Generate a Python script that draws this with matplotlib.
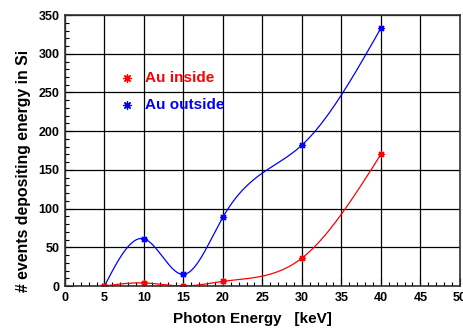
import numpy as np
import matplotlib
matplotlib.use('Agg')
import matplotlib.pyplot as plt
from matplotlib.ticker import MultipleLocator

energy = [5, 10, 15, 20, 30, 40]
au_inside = [0, 4, 0, 6, 36, 170]
au_outside = [0, 61, 15, 89, 182, 333]


def spline(x, y, n=400):
    # natural cubic spline, like ROOT's smooth "C" drawing
    x = np.asarray(x, float)
    y = np.asarray(y, float)
    k = len(x)
    h = np.diff(x)
    A = np.zeros((k, k))
    b = np.zeros(k)
    A[0, 0] = A[-1, -1] = 1
    for i in range(1, k - 1):
        A[i, i - 1] = h[i - 1]
        A[i, i] = 2 * (h[i - 1] + h[i])
        A[i, i + 1] = h[i]
        b[i] = 6 * ((y[i + 1] - y[i]) / h[i] - (y[i] - y[i - 1]) / h[i - 1])
    m = np.linalg.solve(A, b)
    xs = np.linspace(x[0], x[-1], n)
    j = np.clip(np.searchsorted(x, xs) - 1, 0, k - 2)
    t0 = x[j + 1] - xs
    t1 = xs - x[j]
    hj = h[j]
    ys = (m[j] * t0**3 + m[j + 1] * t1**3) / (6 * hj) \
        + (y[j] / hj - m[j] * hj / 6) * t0 + (y[j + 1] / hj - m[j + 1] * hj / 6) * t1
    return xs, ys


plt.rcParams['font.family'] = 'Liberation Sans'
plt.rcParams['font.weight'] = 'bold'

fig = plt.figure(figsize=(4.64, 3.28), dpi=100)
ax = fig.add_axes([0.140, 0.128, 0.851, 0.826])

star = (8, 2, 0)
for ys, col in [(au_outside, 'blue'), (au_inside, 'red')]:
    sx, sy = spline(energy, ys)
    ax.plot(sx, sy, color=col, linewidth=0.9)
    ax.plot(energy, ys, linestyle='none', marker=star, markersize=5,
            markeredgewidth=0.9, color=col)

ax.set_xlim(0, 50)
ax.set_ylim(0, 350)
ax.xaxis.set_major_locator(MultipleLocator(5))
ax.xaxis.set_minor_locator(MultipleLocator(1))
ax.yaxis.set_major_locator(MultipleLocator(50))
ax.yaxis.set_minor_locator(MultipleLocator(10))
ax.grid(True, which='major', color='black', linewidth=0.9)
ax.set_axisbelow(True)
ax.tick_params(which='both', direction='in', top=False, right=False, labelsize=9)
ax.tick_params(which='major', length=6, width=0.8, pad=4)
ax.tick_params(which='minor', length=3, width=0.8)
for s in ax.spines.values():
    s.set_linewidth(1.2)
    s.set_color('#333333')

ax.set_xlabel('Photon Energy   [keV]', fontsize=11, fontweight='bold')
ax.set_ylabel('# events depositing energy in Si', fontsize=11.4, fontweight='bold')
ax.xaxis.set_label_coords(0.476, -0.097)
ax.yaxis.set_label_coords(-0.086, 0.424)

ax.plot([0.157], [0.768], transform=ax.transAxes, marker=star, markersize=6,
        markeredgewidth=0.9, color='red', linestyle='none')
ax.plot([0.157], [0.668], transform=ax.transAxes, marker=star, markersize=6,
        markeredgewidth=0.9, color='blue', linestyle='none')
ax.text(0.203, 0.768, 'Au inside', transform=ax.transAxes, color='red',
        fontsize=11, fontweight='bold', va='center')
ax.text(0.203, 0.668, 'Au outside', transform=ax.transAxes, color='blue',
        fontsize=11, fontweight='bold', va='center')

fig.savefig('out.png', dpi=100)
